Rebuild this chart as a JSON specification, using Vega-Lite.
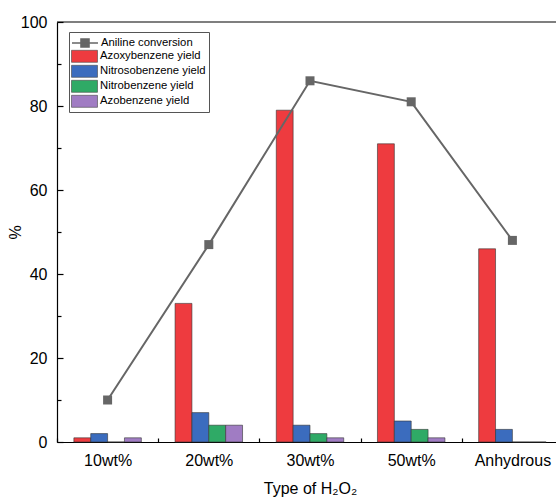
{
  "$schema": "https://vega.github.io/schema/vega-lite/v6.json",
  "width": 499,
  "height": 420,
  "autosize": {"type": "none"},
  "padding": {"left": 57, "top": 22, "right": 0, "bottom": 58},
  "background": "white",
  "config": {
    "font": "Liberation Sans",
    "view": {"stroke": null},
    "axis": {"labelColor": "black", "titleColor": "black", "domainColor": "black", "tickColor": "black", "titleFontWeight": "normal", "grid": false}
  },
  "datasets": {
    "yields": [
      {"type": "10wt%", "series": "Azoxybenzene yield", "value": 1},
      {"type": "10wt%", "series": "Nitrosobenzene yield", "value": 2},
      {"type": "10wt%", "series": "Nitrobenzene yield", "value": 0},
      {"type": "10wt%", "series": "Azobenzene yield", "value": 1},
      {"type": "20wt%", "series": "Azoxybenzene yield", "value": 33},
      {"type": "20wt%", "series": "Nitrosobenzene yield", "value": 7},
      {"type": "20wt%", "series": "Nitrobenzene yield", "value": 4},
      {"type": "20wt%", "series": "Azobenzene yield", "value": 4},
      {"type": "30wt%", "series": "Azoxybenzene yield", "value": 79},
      {"type": "30wt%", "series": "Nitrosobenzene yield", "value": 4},
      {"type": "30wt%", "series": "Nitrobenzene yield", "value": 2},
      {"type": "30wt%", "series": "Azobenzene yield", "value": 1},
      {"type": "50wt%", "series": "Azoxybenzene yield", "value": 71},
      {"type": "50wt%", "series": "Nitrosobenzene yield", "value": 5},
      {"type": "50wt%", "series": "Nitrobenzene yield", "value": 3},
      {"type": "50wt%", "series": "Azobenzene yield", "value": 1},
      {"type": "Anhydrous", "series": "Azoxybenzene yield", "value": 46},
      {"type": "Anhydrous", "series": "Nitrosobenzene yield", "value": 3},
      {"type": "Anhydrous", "series": "Nitrobenzene yield", "value": 0},
      {"type": "Anhydrous", "series": "Azobenzene yield", "value": 0}
    ],
    "conv": [
      {"type": "10wt%", "series": "Aniline conversion", "value": 10},
      {"type": "20wt%", "series": "Aniline conversion", "value": 47},
      {"type": "30wt%", "series": "Aniline conversion", "value": 86},
      {"type": "50wt%", "series": "Aniline conversion", "value": 81},
      {"type": "Anhydrous", "series": "Aniline conversion", "value": 48}
    ]
  },
  "layer": [
    {
      "data": {"name": "yields"},
      "mark": {"type": "bar", "stroke": "#333333", "strokeWidth": 0.6},
      "encoding": {
        "x": {
          "field": "type", "type": "nominal",
          "sort": ["10wt%", "20wt%", "30wt%", "50wt%", "Anhydrous"],
          "scale": {"range": [0, 506], "paddingInner": 0, "paddingOuter": 0},
          "axis": {
            "title": "Type of H₂O₂", "titleFontSize": 16, "titlePadding": 12, "titleX": 253,
            "labelFontSize": 16, "labelAngle": 0, "labelPadding": 14,
            "tickBand": "extent", "tickSize": -4, "tickWidth": 1.2, "domainWidth": 1.2
          }
        },
        "xOffset": {
          "field": "series", "type": "nominal",
          "sort": ["Azoxybenzene yield", "Nitrosobenzene yield", "Nitrobenzene yield", "Azobenzene yield"],
          "scale": {"paddingInner": 0, "paddingOuter": 1.333}
        },
        "y": {
          "field": "value", "type": "quantitative",
          "scale": {"domain": [0, 100], "nice": false},
          "axis": {
            "title": "%", "titleFontSize": 16, "titlePadding": -3,
            "values": [0, 10, 20, 30, 40, 50, 60, 70, 80, 90, 100],
            "labelExpr": "datum.value % 20 === 0 ? datum.label : ''",
            "labelFontSize": 16, "labelPadding": 16,
            "tickSize": {"condition": {"test": "datum.value % 20 === 0", "value": -6}, "value": -4},
            "tickWidth": 1.2, "domainWidth": 1.2
          }
        },
        "color": {
          "field": "series", "type": "nominal",
          "scale": {
            "domain": ["Azoxybenzene yield", "Nitrosobenzene yield", "Nitrobenzene yield", "Azobenzene yield"],
            "range": ["#EE3B3F", "#3B6CBE", "#2FAA66", "#A07CC3"]
          },
          "legend": {
            "title": " ", "titleFontSize": 11.3, "titlePadding": 2.5, "titleFontWeight": "normal",
            "orient": "none", "legendX": 12, "legendY": 10,
            "strokeColor": "#555555", "padding": 3,
            "labelFontSize": 11.3, "labelColor": "black", "labelOffset": 8, "symbolOffset": 5,
            "symbolSize": 196, "rowPadding": 0, "labelLimit": 300,
            "symbolType": "M-1.857,-0.857H1.857V0.857H-1.857Z",
            "symbolStrokeColor": "#444444", "symbolStrokeWidth": 0.6, "symbolOpacity": 1
          }
        }
      }
    },
    {
      "data": {"name": "conv"},
      "mark": {"type": "line", "strokeWidth": 2, "color": "#666666"},
      "encoding": {
        "x": {"field": "type", "type": "nominal", "sort": ["10wt%", "20wt%", "30wt%", "50wt%", "Anhydrous"]},
        "y": {"field": "value", "type": "quantitative"},
        "opacity": {
          "field": "series", "type": "nominal",
          "scale": {"domain": ["Aniline conversion"], "range": [1]},
          "legend": {
            "title": null, "orient": "none", "legendX": 12, "legendY": 10, "padding": 3,
            "labelFontSize": 11.3, "labelColor": "black", "labelOffset": 8, "symbolOffset": 5,
            "symbolSize": 196, "labelLimit": 300,
            "symbolType": "M-1.857,0H1.857M-0.57,-0.57H0.57V0.57H-0.57Z",
            "symbolFillColor": "#666666", "symbolStrokeColor": "#666666", "symbolStrokeWidth": 1.6
          }
        }
      }
    },
    {
      "data": {"name": "conv"},
      "mark": {"type": "square", "filled": true, "color": "#666666", "size": 81, "opacity": 1},
      "encoding": {
        "x": {"field": "type", "type": "nominal", "sort": ["10wt%", "20wt%", "30wt%", "50wt%", "Anhydrous"]},
        "y": {"field": "value", "type": "quantitative"}
      }
    },
    {
      "data": {"values": [{}]},
      "mark": {"type": "rule", "color": "black", "strokeWidth": 1.2},
      "encoding": {"y": {"datum": 100}}
    }
  ]
}
